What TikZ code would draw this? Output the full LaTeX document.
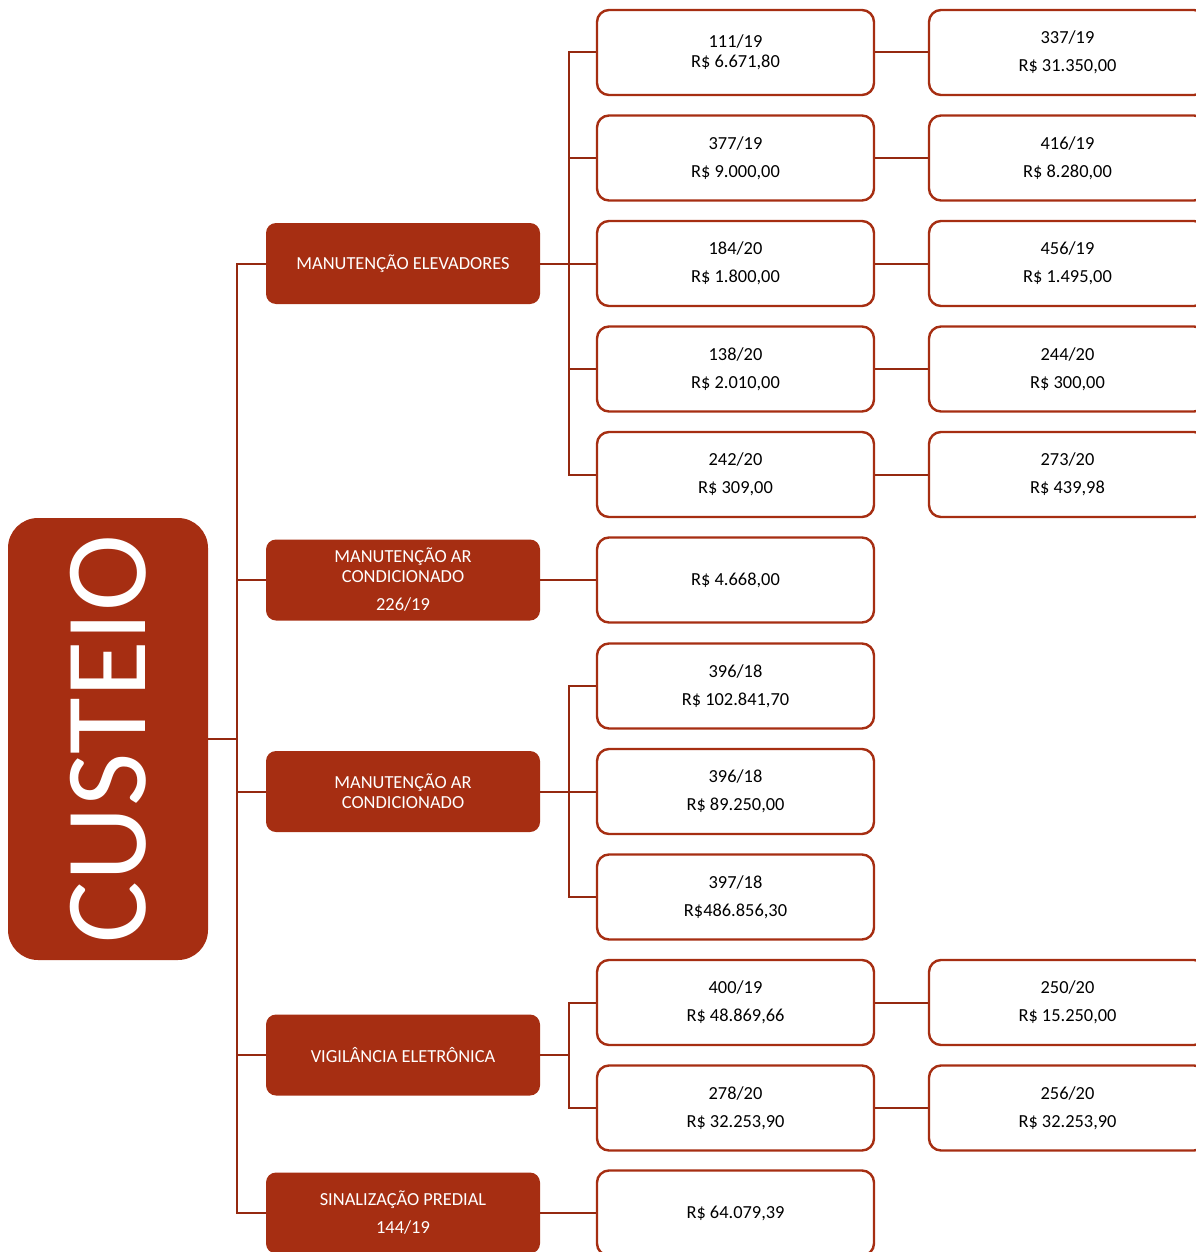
\documentclass[tikz,border=0pt]{standalone}
\usepackage{fontspec}
\setmainfont{Carlito}
\definecolor{tijolo}{RGB}{166,46,18}

\begin{document}
\begin{tikzpicture}[x=0.5pt, y=-0.5pt,
    raiz/.style={rectangle, rounded corners=15pt, fill=tijolo, text=white, minimum width=100pt, minimum height=221pt, inner sep=0pt},
    grupo/.style={rectangle, rounded corners=5pt, fill=tijolo, text=white, minimum width=137pt, minimum height=40.5pt, align=center, font=\fontsize{9.2}{10}\selectfont, inner sep=0pt},
    item/.style={rectangle, rounded corners=6pt, draw=tijolo, line width=1.2pt, fill=white, minimum width=138.5pt, minimum height=42.5pt, align=center, font=\fontsize{9.2}{10}\selectfont, inner sep=0pt},
    liga/.style={draw=tijolo!90!black, line width=1pt}]
        \useasboundingbox (0,0) rectangle (1195,1252);

        \node[raiz] (custeio) at (108,739) {\rotatebox{90}{\fontsize{58}{58}\selectfont CUSTEIO}};

        \node[grupo] (elev) at (403,263.5) {MANUTENÇÃO ELEVADORES};
        \node[grupo] (arc1) at (403,580) {MANUTENÇÃO AR\\CONDICIONADO\\[4pt]226/19};
        \node[grupo] (arc2) at (403,791.5) {MANUTENÇÃO AR\\CONDICIONADO};
        \node[grupo] (vig) at (403,1055) {VIGILÂNCIA ELETRÔNICA};
        \node[grupo] (sinal) at (403,1213) {SINALIZAÇÃO PREDIAL\\[4pt]144/19};

        \node[item] (e1) at (735.5,52.5) {111/19\\R\$ 6.671,80};
        \node[item] (e2) at (735.5,158) {377/19\\[4pt]R\$ 9.000,00};
        \node[item] (e3) at (735.5,263.5) {184/20\\[4pt]R\$ 1.800,00};
        \node[item] (e4) at (735.5,369) {138/20\\[4pt]R\$ 2.010,00};
        \node[item] (e5) at (735.5,474.5) {242/20\\[4pt]R\$ 309,00};
        \node[item] (a1) at (735.5,580) {R\$ 4.668,00};
        \node[item] (c1) at (735.5,686) {396/18\\[4pt]R\$ 102.841,70};
        \node[item] (c2) at (735.5,791.5) {396/18\\[4pt]R\$ 89.250,00};
        \node[item] (c3) at (735.5,897) {397/18\\[4pt]R\$486.856,30};
        \node[item] (v1) at (735.5,1002.5) {400/19\\[4pt]R\$ 48.869,66};
        \node[item] (v2) at (735.5,1108) {278/20\\[4pt]R\$ 32.253,90};
        \node[item] (s1) at (735.5,1213) {R\$ 64.079,39};

        \node[item] (f1) at (1067.5,52.5) {337/19\\[4pt]R\$ 31.350,00};
        \node[item] (f2) at (1067.5,158) {416/19\\[4pt]R\$ 8.280,00};
        \node[item] (f3) at (1067.5,263.5) {456/19\\[4pt]R\$ 1.495,00};
        \node[item] (f4) at (1067.5,369) {244/20\\[4pt]R\$ 300,00};
        \node[item] (f5) at (1067.5,474.5) {273/20\\[4pt]R\$ 439,98};
        \node[item] (w1) at (1067.5,1002.5) {250/20\\[4pt]R\$ 15.250,00};
        \node[item] (w2) at (1067.5,1108) {256/20\\[4pt]R\$ 32.253,90};

        % tronco principal
        \coordinate (tronco) at (237,739);
        \draw[liga] (custeio.east) to (tronco)
            (tronco) |- (elev.west)
            (tronco) |- (arc1.west)
            (tronco) |- (arc2.west)
            (tronco) |- (vig.west)
            (tronco) |- (sinal.west);

        % segundo nivel
        \coordinate (barra1) at (569,263.5);
        \coordinate (barra2) at (569,791.5);
        \coordinate (barra3) at (569,1055);
        \draw[liga] (elev.east) to (barra1)
            (barra1) |- (e1.west)
            (barra1) |- (e2.west)
            (barra1) to (e3.west)
            (barra1) |- (e4.west)
            (barra1) |- (e5.west);
        \draw[liga] (arc1.east) to (a1.west);
        \draw[liga] (arc2.east) to (barra2)
            (barra2) |- (c1.west)
            (barra2) to (c2.west)
            (barra2) |- (c3.west);
        \draw[liga] (vig.east) to (barra3)
            (barra3) |- (v1.west)
            (barra3) |- (v2.west);
        \draw[liga] (sinal.east) to (s1.west);

        % terceiro nivel
        \draw[liga] (e1) to (f1)
            (e2) to (f2)
            (e3) to (f3)
            (e4) to (f4)
            (e5) to (f5)
            (v1) to (w1)
            (v2) to (w2);
    \end{tikzpicture}
\end{document}
